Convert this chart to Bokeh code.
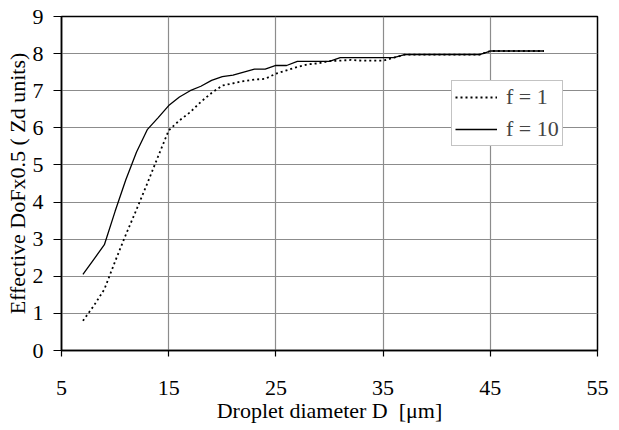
from bokeh.plotting import figure
from bokeh.models import Range1d, FixedTicker, Legend, LegendItem
from bokeh.embed import file_html
from bokeh.resources import INLINE

# ---- data ----
diameter = list(range(7, 51))
f1 = [0.8, 1.2, 1.65, 2.4, 3.12, 3.8, 4.5, 5.22, 5.93, 6.2,
      6.42, 6.7, 6.94, 7.14, 7.2, 7.26, 7.3, 7.32, 7.46, 7.55,
      7.64, 7.71, 7.74, 7.8, 7.81, 7.83, 7.81, 7.81, 7.81, 7.89,
      7.97, 7.97, 7.97, 7.97, 7.97, 7.97, 7.97, 7.97,
      8.07, 8.07, 8.07, 8.07, 8.07, 8.07]
f10 = [2.05, 2.45, 2.85, 3.75, 4.6, 5.35, 5.95, 6.27, 6.6, 6.83,
       7.0, 7.12, 7.28, 7.38, 7.42, 7.5, 7.58, 7.58, 7.68, 7.68,
       7.79, 7.79, 7.79, 7.79, 7.89, 7.89, 7.89, 7.89, 7.89, 7.89,
       7.97, 7.97, 7.97, 7.97, 7.97, 7.97, 7.97, 7.97,
       8.07, 8.07, 8.07, 8.07, 8.07, 8.07]
x_ticks = [5, 15, 25, 35, 45, 55]
y_ticks = list(range(0, 10))
series_labels = ["f = 1", "f = 10"]
x_title = "Droplet diameter D\u00a0 [\u03bcm]"
y_title = "Effective DoFx0.5 ( Zd units)"

FONT = "Liberation Serif"
W, H = 609, 430
FRAME_H = 334

p = figure(width=W, height=H, output_backend="svg", toolbar_location=None,
           x_range=Range1d(5, 55), y_range=Range1d(0, 9),
           min_border_left=61, min_border_right=12, min_border_top=16,
           min_border_bottom=H - 16 - FRAME_H)
p.background_fill_color = "white"
p.border_fill_color = "white"
p.outline_line_color = "black"
p.outline_line_width = 1.5

for ax in (p.xaxis, p.yaxis):
    ax.axis_line_color = "black"
    ax.axis_line_width = 1.5
    ax.major_tick_line_color = "black"
    ax.major_tick_line_width = 1.2
    ax.major_tick_in = 0
    ax.minor_tick_line_color = None
    ax.major_label_text_font = FONT
    ax.major_label_text_font_size = "22px"
    ax.major_label_text_color = "black"
    ax.axis_label_text_font = FONT
    ax.axis_label_text_font_size = "22px"
    ax.axis_label_text_font_style = "normal"
    ax.axis_label_text_color = "black"
p.xaxis.ticker = FixedTicker(ticks=x_ticks)
p.yaxis.ticker = FixedTicker(ticks=y_ticks)
p.xaxis.major_tick_out = 6
p.yaxis.major_tick_out = 8
p.xaxis.major_label_standoff = 24
p.yaxis.major_label_standoff = 10
p.xaxis.axis_label = x_title
p.yaxis.axis_label = y_title
p.xaxis.axis_label_standoff = 0
p.yaxis.axis_label_standoff = 0

p.grid.grid_line_color = "#8c8c8c"
p.grid.grid_line_width = 1.2

r1 = p.line(diameter, f1, line_color="black", line_width=1.8, line_dash="2 3")
r10 = p.line(diameter, f10, line_color="black", line_width=1.3)

legend = Legend(items=[LegendItem(label=series_labels[0], renderers=[r1]),
                       LegendItem(label=series_labels[1], renderers=[r10])],
                location=(390, 204), orientation="vertical",
                label_text_font=FONT, label_text_font_size="22px",
                glyph_width=42, glyph_height=26, label_height=26,
                label_standoff=9, spacing=6, padding=3, margin=0,
                border_line_color="#888888", border_line_width=1,
                background_fill_color="white", background_fill_alpha=1)
p.add_layout(legend)

open("out.html", "w").write(file_html(p, INLINE))
